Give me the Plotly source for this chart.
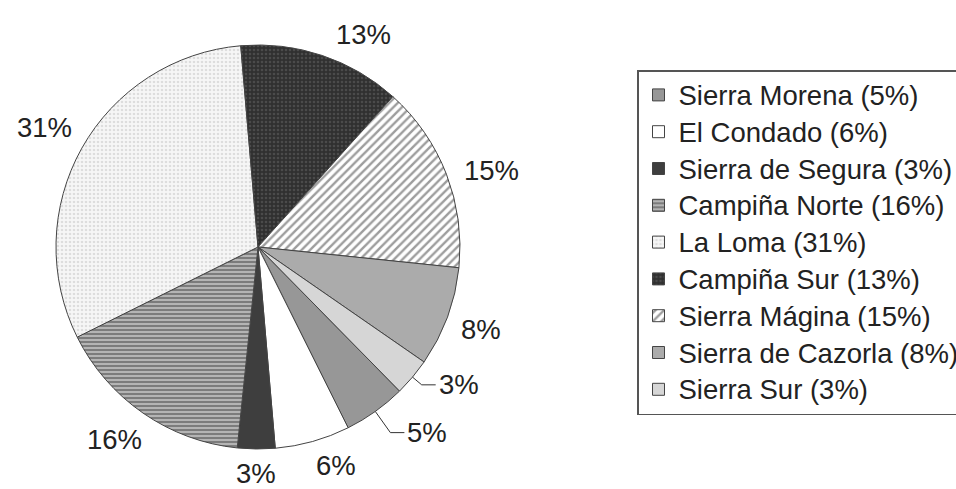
import math
import plotly.graph_objects as go

# Share of each comarca (%), listed clockwise starting with Sierra Morena
comarcas = ["Sierra Morena", "El Condado", "Sierra de Segura", "Campiña Norte",
            "La Loma", "Campiña Sur", "Sierra Mágina", "Sierra de Cazorla", "Sierra Sur"]
shares = [5, 6, 3, 16, 31, 13, 15, 8, 3]

# Fill styles per slice
base_colors = ["#979797", "#ffffff", "#3e3e3e", "#b4b4b4", "#f6f6f6",
               "#303030", "#ffffff", "#ababab", "#d6d6d6"]
pattern_shapes = ["", "", "", "-", ".", ".", "/", "", ""]
pattern_fg = ["#000", "#000", "#000", "#444444", "#c4c4c4",
              "#666666", "#3c3c3c", "#000", "#000"]
pattern_size = [8, 8, 8, 4, 4, 4, 6, 8, 8]
pattern_solidity = [0.3, 0.3, 0.3, 0.5, 0.35, 0.35, 0.4, 0.3, 0.3]

# Label placement tweaks: elbow leader legs (px) and angular nudges (deg)
leader_legs = {"Sierra Sur": 12, "Sierra Morena": 26}
label_nudge = {"Campiña Sur": 8, "Sierra Mágina": 3, "El Condado": -4, "Campiña Norte": 2}

W, H = 956, 489
CX, CY, R = 258, 247, 202          # pie centre and radius in pixels
ROTATION = 135.5                   # start angle of first slice, clockwise from 12 o'clock
FONT = "Liberation Sans, Arial, Helvetica, sans-serif"
FS = 26            # legend row metrics
TEXT_FS = 27.5     # drawn text size

legend_names = [f'<span style="font-size:{TEXT_FS}px">{n} ({v}%)</span>'
                for n, v in zip(comarcas, shares)]

fig = go.Figure(go.Pie(
    labels=legend_names,
    values=shares,
    sort=False,
    direction="clockwise",
    rotation=ROTATION,
    textinfo="none",
    hoverinfo="label",
    domain=dict(x=[(CX - R) / W, (CX + R) / W],
                y=[(H - CY - R) / H, (H - CY + R) / H]),
    marker=dict(
        colors=base_colors,
        line=dict(color="#444444", width=1),
        pattern=dict(shape=pattern_shapes, fgcolor=pattern_fg,
                     size=pattern_size, solidity=pattern_solidity,
                     fillmode="overlay"),
    ),
))


def to_paper(px, py):
    return px / W, 1 - py / H


total = sum(shares)
annotations = []
shapes = []
cum = 0.0
for name, v in zip(comarcas, shares):
    mid_deg = ROTATION + (cum + v / 2) / total * 360
    cum += v
    text = f"{v}%"
    font = dict(family=FONT, size=TEXT_FS, color="#222222")
    if name in leader_legs:
        # elbow leader: radial leg from the rim, then a short horizontal run
        s, c = math.sin(math.radians(mid_deg)), math.cos(math.radians(mid_deg))
        ex, ey = CX + R * s, CY - R * c
        leg = leader_legs[name]
        kx, ky = ex + leg * s, ey - leg * c
        hx = kx + 14
        p = [to_paper(ex, ey), to_paper(kx, ky), to_paper(hx, ky)]
        shapes.append(dict(type="path", xref="paper", yref="paper",
                           path=f"M{p[0][0]},{p[0][1]} L{p[1][0]},{p[1][1]} L{p[2][0]},{p[2][1]}",
                           line=dict(color="#333333", width=1)))
        tx, ty = to_paper(hx + 1, ky)
        annotations.append(dict(x=tx, y=ty, xref="paper", yref="paper", text=text,
                                showarrow=False, xanchor="left", yanchor="middle",
                                font=font))
    else:
        a = math.radians(mid_deg + label_nudge.get(name, 0))
        s, c = math.sin(a), math.cos(a)
        # keep the label box just clear of the rim
        tw = TEXT_FS * (0.556 * (len(text) - 1) + 0.889)
        th = TEXT_FS * 0.75
        d = R + 14 + 0.5 * (abs(tw * s) + abs(th * c))
        tx, ty = to_paper(CX + d * s, CY - d * c)
        annotations.append(dict(x=tx, y=ty, xref="paper", yref="paper", text=text,
                                showarrow=False, xanchor="center", yanchor="middle",
                                font=font))

fig.update_layout(
    width=W, height=H,
    margin=dict(l=0, r=0, t=0, b=0, autoexpand=False),
    paper_bgcolor="white",
    plot_bgcolor="white",
    font=dict(family=FONT, size=FS, color="#222222"),
    showlegend=True,
    legend=dict(
        x=637 / W, y=1 - 70 / H, xanchor="left", yanchor="top",
        bgcolor="white", bordercolor="#555555", borderwidth=1.5,
        font=dict(family=FONT, size=FS, color="#222222"),
        itemclick=False, itemdoubleclick=False,
    ),
    annotations=annotations,
    shapes=shapes,
)

fig.write_html("out.html")
